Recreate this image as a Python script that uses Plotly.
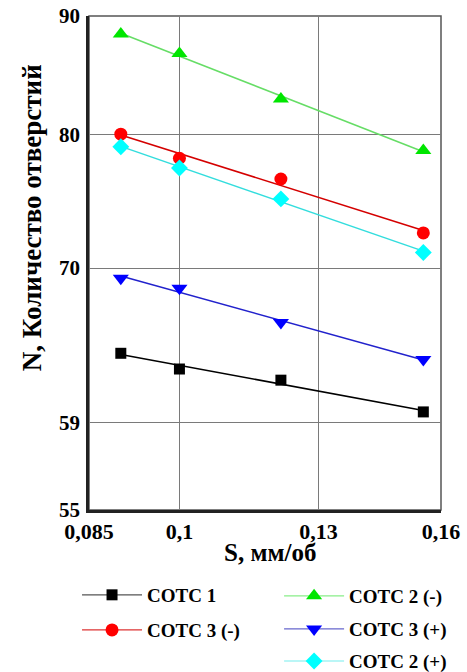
import numpy as np
import plotly.graph_objects as go

# ---- data ----
S = [0.09, 0.1, 0.12, 0.155]
cotc1 = [64.3, 63.3, 62.6, 60.65]
cotc2_minus = [88.4, 86.7, 82.85, 78.7]
cotc3_minus = [80.0, 78.1, 76.5, 72.5]
cotc3_plus = [69.3, 68.6, 66.3, 63.9]
cotc2_plus = [79.0, 77.35, 75.0, 71.1]

series_names = ["СОТС 1", "СОТС 3 (-)", "СОТС 2 (-)", "СОТС 3 (+)", "СОТС 2 (+)"]
series_values = [cotc1, cotc3_minus, cotc2_minus, cotc3_plus, cotc2_plus]

x_tick_vals = [0.085, 0.1, 0.1284, 0.16]
x_tick_text = ["0,085", "0,1", "0,13", "0,16"]
y_tick_vals = [55, 60, 70, 80, 90]
y_tick_text = ["55", "59", "70", "80", "90"]

# ---- styles ----
marker_colors = ["#000000", "#ff0000", "#00e600", "#0000ff", "#00ffff"]
line_colors = ["#000000", "#d40000", "#66dd66", "#2222cc", "#33dddd"]
legend_line_colors = ["#555555", "#dd3333", "#88ee88", "#6666cc", "#77eeee"]
symbols = ["square", "circle", "triangle-up", "triangle-down", "diamond"]
sizes = [11, 13, 14, 14, 13]
legend_ids = ["legend", "legend2", "legend3", "legend4", "legend5"]
legend_pos = [(-0.034, -0.172), (-0.034, -0.243), (0.54, -0.174), (0.54, -0.241), (0.54, -0.306)]

FONT = "Times New Roman, Liberation Serif, serif"

fig = go.Figure()
logS = np.log10(S)
for name, vals, mc, lc, llc, sym, sz, lid in zip(series_names, series_values, marker_colors,
                                                line_colors, legend_line_colors, symbols,
                                                sizes, legend_ids):
    # power-law trend line (straight in log-log), fitted to the points
    k, b = np.polyfit(logS, np.log10(vals), 1)
    xfit = [S[0], S[-1]]
    yfit = [10 ** (b + k * np.log10(v)) for v in xfit]
    fig.add_trace(go.Scatter(x=xfit, y=yfit, mode="lines", line=dict(color=lc, width=1.5),
                             showlegend=False, hoverinfo="skip"))
    fig.add_trace(go.Scatter(x=S, y=vals, mode="markers", name=name,
                             marker=dict(symbol=sym, size=sz, color=mc), showlegend=False))
    # legend entry
    fig.add_trace(go.Scatter(x=[None], y=[None], mode="lines+markers", name=name,
                             line=dict(color=llc, width=1.2),
                             marker=dict(symbol=sym, size=sz, color=mc),
                             legend=lid, showlegend=True))

layout_legends = {}
for lid, (lx, ly) in zip(legend_ids, legend_pos):
    layout_legends[lid] = dict(x=lx, y=ly, xanchor="left", yanchor="middle",
                               xref="paper", yref="paper", itemwidth=60,
                               bgcolor="rgba(0,0,0,0)",
                               font=dict(family=FONT, size=19, color="black", weight="bold"))

fig.update_layout(
    width=467, height=672,
    margin=dict(l=89, r=26, t=16, b=162, autoexpand=False),
    paper_bgcolor="white", plot_bgcolor="white",
    showlegend=True,
    font=dict(family=FONT, size=22, color="black"),
    **layout_legends,
)

fig.update_xaxes(type="log", range=[np.log10(0.085), np.log10(0.16)],
                 tickvals=x_tick_vals, ticktext=x_tick_text,
                 tickfont=dict(family=FONT, size=22, color="black", weight="bold"),
                 showgrid=True, gridcolor="#7a7a7a", gridwidth=1,
                 showline=True, linecolor="#222222", linewidth=2.5,
                 ticks="", zeroline=False, ticklabelstandoff=0)
fig.update_yaxes(type="log", range=[np.log10(55), np.log10(90)],
                 tickvals=y_tick_vals, ticktext=y_tick_text,
                 tickfont=dict(family=FONT, size=21, color="black", weight="bold"),
                 showgrid=True, gridcolor="#7a7a7a", gridwidth=1,
                 showline=True, linecolor="#222222", linewidth=2.5,
                 ticks="", zeroline=False, ticklabelstandoff=2)

# plot border (grey) on top and right
fig.add_shape(type="rect", xref="x domain", yref="y domain", x0=0, x1=1, y0=0, y1=1,
              line=dict(color="#555555", width=1.5), layer="below")

# axis titles
fig.add_annotation(text="S, мм/об", xref="paper", yref="paper", x=0.514, y=-0.087,
                   xanchor="center", yanchor="middle", showarrow=False,
                   font=dict(family=FONT, size=25, color="black", weight="bold"))
fig.add_annotation(text="N, Количество отверстий", xref="paper", yref="paper",
                   x=-0.163, y=0.592, xanchor="center", yanchor="middle", textangle=-90,
                   showarrow=False,
                   font=dict(family=FONT, size=27, color="black", weight="bold"))

fig.write_html("out.html", config={"displayModeBar": False},
               post_script="document.body.style.margin='0';")
